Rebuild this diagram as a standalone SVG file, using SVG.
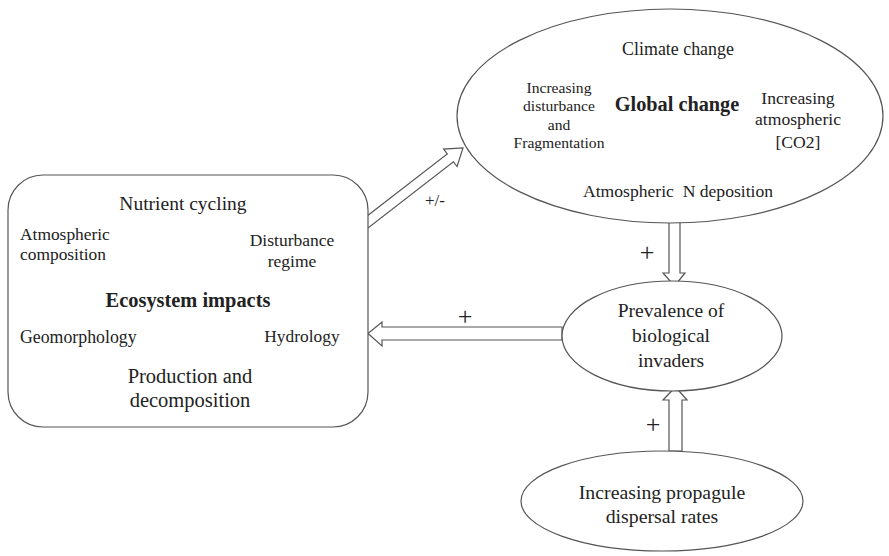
<svg xmlns="http://www.w3.org/2000/svg" width="889" height="556" viewBox="0 0 889 556">
<style>
text{font-family:"Liberation Serif","Times New Roman",serif;fill:#222;text-anchor:middle}
.b{font-weight:bold}
.l{text-anchor:start}
.shape{fill:#fff;stroke:#555;stroke-width:1.2}
.arr{fill:#fff;stroke:#555;stroke-width:1.2;stroke-linejoin:miter}
.p{font-size:26px}
</style>
<rect width="889" height="556" fill="#fff"/>
<g id="connectors">
<g transform="translate(365,224) rotate(-37.8)">
<polygon class="arr" points="0,-5 108,-5 108,-11 124,0 108,11 108,5 0,5"/>
</g>
<polygon class="arr" points="669,222 680,222 680,273 685,273 674.5,286 663,273 669,273"/>
<polygon class="arr" points="562,327 382,327 382,322 368,333.5 382,346 382,340 562,340"/>
<polygon class="arr" points="669,451 682,451 682,400 687,400 675.5,387 663,400 669,400"/>
<text x="435" y="206" font-size="17">+/-</text>
<text class="p" x="647" y="261">+</text>
<text class="p" x="465" y="325">+</text>
<text class="p" x="653" y="433">+</text>
</g>
<g id="ecosystem">
<rect class="shape" x="8" y="175" width="360" height="252" rx="35"/>
<text x="183" y="210" font-size="19.5">Nutrient cycling</text>
<text class="l" x="20" y="240" font-size="17.4">Atmospheric</text>
<text class="l" x="20" y="260" font-size="17.4">composition</text>
<text x="292" y="246" font-size="17.5">Disturbance</text>
<text x="292" y="267" font-size="17.5">regime</text>
<text class="b" x="188" y="307" font-size="20.4">Ecosystem impacts</text>
<text class="l" x="20" y="343" font-size="17.8">Geomorphology</text>
<text x="302" y="342" font-size="17.4">Hydrology</text>
<text x="190" y="383" font-size="20.5">Production and</text>
<text x="190" y="407" font-size="20.5">decomposition</text>
</g>
<g id="global">
<ellipse class="shape" cx="670" cy="116" rx="213" ry="107"/>
<text x="678" y="55" font-size="17.9">Climate change</text>
<text class="b" x="677" y="111" font-size="20.3">Global change</text>
<text x="559" y="93" font-size="15.6">Increasing</text>
<text x="559" y="111" font-size="15.6">disturbance</text>
<text x="559" y="130" font-size="15.6">and</text>
<text x="559" y="148" font-size="15.6">Fragmentation</text>
<text x="798" y="104" font-size="17.6">Increasing</text>
<text x="798" y="125" font-size="17.6">atmospheric</text>
<text x="798" y="148" font-size="17.6">[CO2]</text>
<text x="678" y="197" font-size="17.6">Atmospheric&#160; N deposition</text>
</g>
<g id="prevalence">
<ellipse class="shape" cx="672" cy="336" rx="110" ry="55"/>
<text x="671" y="317" font-size="19.5">Prevalence of</text>
<text x="671" y="342" font-size="19.5">biological</text>
<text x="671" y="367" font-size="19.5">invaders</text>
</g>
<g id="propagule">
<ellipse class="shape" cx="662" cy="501" rx="141" ry="50"/>
<text x="662" y="499" font-size="19.8">Increasing propagule</text>
<text x="662" y="523" font-size="19.8">dispersal rates</text>
</g>
</svg>
